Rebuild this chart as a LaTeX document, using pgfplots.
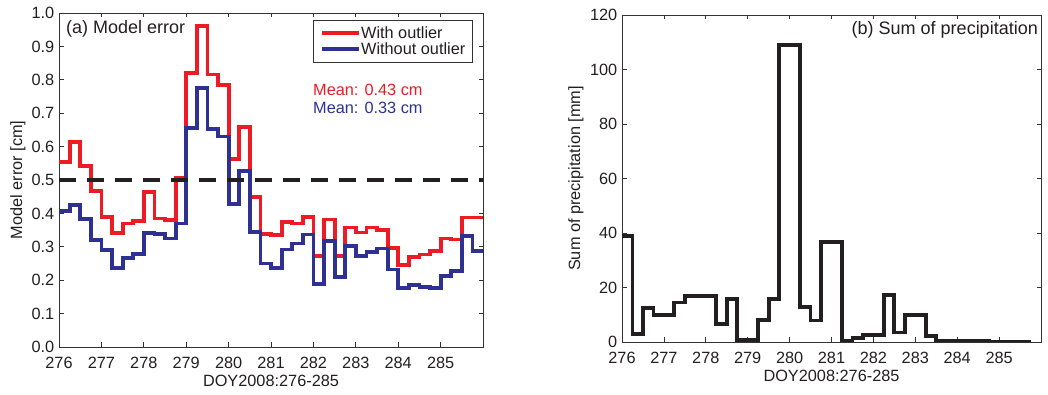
\documentclass[border=0pt]{standalone}
\usepackage{fontspec}
\setmainfont{Liberation Sans}
\usepackage{pgfplots}
\usepackage{pgfplotstable}
\pgfplotsset{compat=1.18}
\definecolor{mred}{RGB}{237,28,36}
\definecolor{mblue}{RGB}{46,49,146}
\definecolor{mblack}{RGB}{35,31,32}
\newcommand{\fs}{\fontsize{16.3}{18}\selectfont}
\newcommand{\ft}{\fontsize{18}{20}\selectfont}

\pgfplotstableread{
t red blue
276.00 0.555 0.408
276.25 0.613 0.425
276.50 0.543 0.383
276.75 0.468 0.320
277.00 0.390 0.290
277.25 0.342 0.236
277.50 0.370 0.266
277.75 0.378 0.278
278.00 0.463 0.342
278.25 0.385 0.338
278.50 0.380 0.325
278.75 0.505 0.370
279.00 0.820 0.655
279.25 0.961 0.775
279.50 0.816 0.652
279.75 0.784 0.630
280.00 0.562 0.428
280.25 0.658 0.527
280.50 0.448 0.345
280.75 0.338 0.250
281.00 0.335 0.237
281.25 0.375 0.292
281.50 0.370 0.310
281.75 0.390 0.337
282.00 0.272 0.188
282.25 0.382 0.318
282.50 0.272 0.210
282.75 0.358 0.303
283.00 0.343 0.272
283.25 0.358 0.285
283.50 0.350 0.295
283.75 0.297 0.232
284.00 0.245 0.176
284.25 0.270 0.186
284.50 0.277 0.180
284.75 0.288 0.176
285.00 0.325 0.212
285.25 0.322 0.228
285.50 0.388 0.333
285.75 0.388 0.287
286.00 0.388 0.287
}\errtable

\pgfplotstableread{
t p
276.00 39.0
276.25 3.0
276.50 12.5
276.75 10.0
277.00 10.0
277.25 14.5
277.50 16.8
277.75 16.8
278.00 16.8
278.25 6.5
278.50 15.8
278.75 0.8
279.00 0.8
279.25 8.0
279.50 15.8
279.75 109.0
280.00 109.0
280.25 12.7
280.50 7.9
280.75 36.7
281.00 36.7
281.25 0.3
281.50 1.5
281.75 2.5
282.00 2.5
282.25 17.3
282.50 3.5
282.75 10.0
283.00 10.0
283.25 2.3
283.50 0.4
283.75 0.3
284.00 0.3
284.25 0.3
284.50 0.3
284.75 0.0
285.00 0.2
285.25 0.2
285.50 0.0
285.75 0.0
}\prectable

\pgfplotsset{
  myaxis/.style={
    scale only axis,
    axis line style={black!80, line width=0.7pt},
    tick style={black!80, line width=0.7pt},
    major tick length=4.5pt,
    tick align=inside,
    xtick pos=both, ytick pos=both,
    xticklabel pos=left, yticklabel pos=left,
    xmin=276, xmax=286,
    xtick={276,277,...,285},
    /pgf/number format/assume math mode=true,
    /pgf/number format/1000 sep={},
    ticklabel style={font=\fs, text=mblack, inner sep=0pt},
    xticklabel style={anchor=north, yshift=-9.5pt},
    yticklabel style={anchor=east, xshift=-4.5pt},
    xlabel={DOY2008:276-285},
    xlabel style={font=\fs, text=mblack, inner sep=0pt, at={(axis description cs:0.5,0)}, anchor=north, yshift=-28pt},
  }
}

\begin{document}
\begin{tikzpicture}
\path[use as bounding box] (0pt,0pt) rectangle (1048pt,395pt);

\begin{axis}[myaxis,
  anchor=south west, at={(59pt,48pt)}, width=424pt, height=334pt,
  ymin=0, ymax=1,
  ytick={0,0.1,0.2,0.3,0.4,0.5,0.6,0.7,0.8,0.9,1.0},
  yticklabel style={/pgf/number format/.cd, fixed, fixed zerofill, precision=1},
  ylabel={Model error [cm]},
  ylabel style={font=\fs, text=mblack, inner sep=0pt, at={(axis description cs:-0.0967,0.5)}, anchor=center},
  legend cell align=left,
  legend image code/.code={\draw[#1] (0pt,0pt) -- (37pt,0pt);},
  legend style={at={(axis cs:281.99,0.979)}, anchor=north west,
    draw=black!80, line width=0.7pt, font=\fs, text=mblack,
    inner xsep=7pt, inner ysep=6pt, row sep=2pt,
    nodes={inner sep=0pt, text height=12pt, text depth=2pt},
    /tikz/every even column/.append style={column sep=2pt}},
]
\addplot[const plot, mred, line width=3.8pt, forget plot] table[x=t, y=red] {\errtable};
\addplot[const plot, mblue, line width=3.8pt, forget plot] table[x=t, y=blue] {\errtable};
\addplot[mblack, line width=3.2pt, dash pattern=on 17pt off 11pt, forget plot] coordinates {(276,0.5) (286,0.5)};
\addlegendimage{mred, line width=3.8pt}
\addlegendentry{With outlier}
\addlegendimage{mblue, line width=3.8pt}
\addlegendentry{Without outlier}
\node[anchor=base west, inner sep=0pt, font=\ft, text=mblack] at (rel axis cs:0,1) [xshift=7pt, yshift=-21pt] {(a) Model error};
\node[anchor=west, inner sep=0pt, font=\fs, text=mred] at (axis cs:281.99,0.77) {Mean: 0.43 cm};
\node[anchor=west, inner sep=0pt, font=\fs, text=mblue] at (axis cs:281.99,0.716) {Mean: 0.33 cm};
\end{axis}

\begin{axis}[myaxis,
  anchor=south west, at={(622pt,53pt)}, width=419pt, height=327pt,
  ymin=0, ymax=120,
  ytick={0,20,40,60,80,100,120},
  ylabel={Sum of precipitation [mm]},
  ylabel style={font=\fs, text=mblack, inner sep=0pt, at={(axis description cs:-0.1098,0.5)}, anchor=center},
]
\addplot[const plot, mblack, line width=3.8pt] table[x=t, y=p] {\prectable};
\node[anchor=base east, inner sep=0pt, font=\ft, text=mblack] at (rel axis cs:1,1) [xshift=-3pt, yshift=-20pt] {(b) Sum of precipitation};
\end{axis}
\end{tikzpicture}
\end{document}
